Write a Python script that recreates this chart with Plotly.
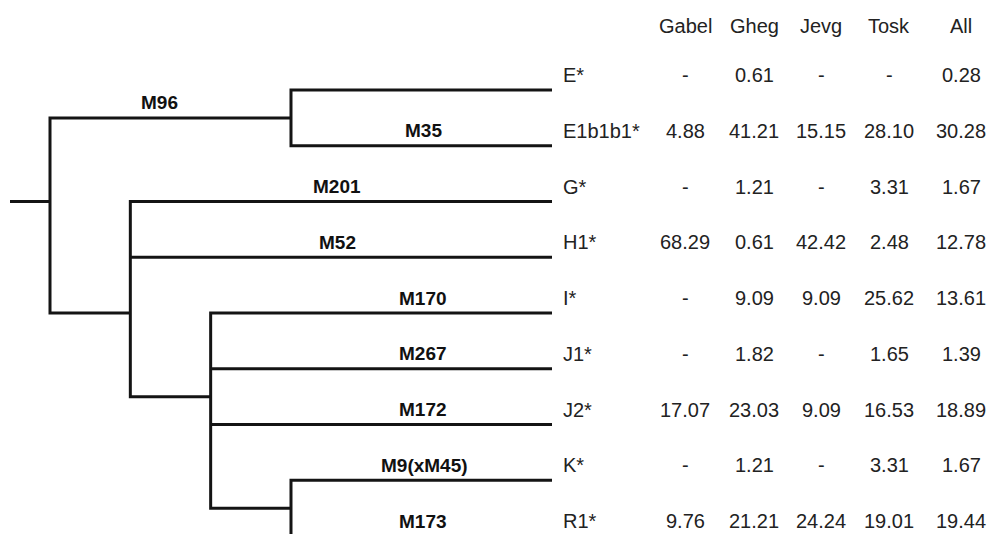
import plotly.graph_objects as go

# ---------------- data ----------------
leaves = ["E*", "E1b1b1*", "G*", "H1*", "I*", "J1*", "J2*", "K*", "R1*"]
leaf_markers = ["", "M35", "M201", "M52", "M170", "M267", "M172", "M9(xM45)", "M173"]
columns = ["Gabel", "Gheg", "Jevg", "Tosk", "All"]
gabel = [None, 4.88, None, 68.29, None, None, 17.07, None, 9.76]
gheg = [0.61, 41.21, 1.21, 0.61, 9.09, 1.82, 23.03, 1.21, 21.21]
jevg = [None, 15.15, None, 42.42, 9.09, None, 9.09, None, 24.24]
tosk = [None, 28.10, 3.31, 2.48, 25.62, 1.65, 16.53, 3.31, 19.01]
all_pop = [0.28, 30.28, 1.67, 12.78, 13.61, 1.39, 18.89, 1.67, 19.44]

# tree topology: internal node -> (level, parent, marker on the branch leading to it)
nodes = {
    "root": (1, None, ""),
    "A": (4, "root", "M96"),
    "B": (2, "root", ""),
    "C": (3, "B", ""),
    "D": (4, "C", ""),
}
leaf_parent = ["A", "A", "B", "B", "C", "C", "C", "D", "D"]

# ---------------- layout constants (page pixels) ----------------
W, H = 988, 534
ROW0_PX, ROW_PX = 90.0, 55.75          # pixel of first leaf row, row step
ROOT_PX, LEVEL_PX = 50.0, 80.33        # pixel of level 1, pixel per level
LEAF_END_PX, STUB_PX = 552, 10
node_row = {"root": 2.0, "A": 0.5, "B": 4.0, "C": 5.5, "D": 7.5}   # vertical anchor of each node
label_px = {"M96": 159, "M35": 423, "M201": 337, "M52": 337, "M170": 423,
            "M267": 423, "M172": 423, "M9(xM45)": 424, "M173": 423}
ROWLABEL_PX = 561
COL_PX = [685, 754, 821, 889, 961]
HEADER_PX = 26
TEXT_SHIFT_PX = 15
LINE_COLOR = "#141414"
TEXT_COLOR = "#222222"
FONT = "Liberation Sans, Arial, Helvetica, sans-serif"
TABLE_SIZE, LABEL_SIZE = 20, 19


def px2lvl(px):
    return 1 + (px - ROOT_PX) / LEVEL_PX


SHIFT = TEXT_SHIFT_PX / ROW_PX
LEAF_LEVEL = px2lvl(LEAF_END_PX)
STUB_LEVEL = px2lvl(STUB_PX)
x_range = [px2lvl(0), px2lvl(W)]
y_range = [(H - ROW0_PX) / ROW_PX, -ROW0_PX / ROW_PX]

# children of each node: (row, end_level)
children = {n: [] for n in nodes}
for i, p in enumerate(leaf_parent):
    children[p].append((i, LEAF_LEVEL))
for n, (lvl, p, _) in nodes.items():
    if p is not None:
        children[p].append((node_row[n], lvl))

xs, ys = [], []
for n, (lvl, p, _) in nodes.items():
    ch = sorted(children[n])
    first, last = ch[0], ch[-1]
    xs += [first[1], lvl, lvl, last[1], None]
    ys += [first[0], first[0], last[0], last[0], None]
    for r, e in ch[1:-1]:
        xs += [lvl, e, None]
        ys += [r, r, None]
xs += [STUB_LEVEL, nodes["root"][0], None]
ys += [node_row["root"], node_row["root"], None]

fig = go.Figure()
fig.add_trace(go.Scatter(x=xs, y=ys, mode="lines",
                         line=dict(color=LINE_COLOR, width=3),
                         hoverinfo="skip", showlegend=False))

ann = []
label_font = dict(family=FONT, size=LABEL_SIZE, color="#111111")
for i, m in enumerate(leaf_markers):
    if m:
        ann.append(dict(x=px2lvl(label_px[m]), y=i - SHIFT, text=f"<b>{m}</b>", showarrow=False,
                        xanchor="center", yanchor="middle", font=label_font))
for n, (lvl, p, m) in nodes.items():
    if m:
        ann.append(dict(x=px2lvl(label_px[m]), y=node_row[n] - SHIFT, text=f"<b>{m}</b>",
                        showarrow=False, xanchor="center", yanchor="middle", font=label_font))

table_font = dict(family=FONT, size=TABLE_SIZE, color=TEXT_COLOR)
series = [gabel, gheg, jevg, tosk, all_pop]
for c, name in enumerate(columns):
    ann.append(dict(x=COL_PX[c] / W, y=1 - HEADER_PX / H, xref="paper", yref="paper",
                    text=name, showarrow=False, xanchor="center", yanchor="middle", font=table_font))
for i, leaf in enumerate(leaves):
    ann.append(dict(x=ROWLABEL_PX / W, y=i - SHIFT, xref="paper", yref="y", text=leaf,
                    showarrow=False, xanchor="left", yanchor="middle", font=table_font))
    for c, s in enumerate(series):
        v = s[i]
        txt = "-" if v is None else f"{v:.2f}"
        ann.append(dict(x=COL_PX[c] / W, y=i - SHIFT, xref="paper", yref="y", text=txt,
                        showarrow=False, xanchor="center", yanchor="middle", font=table_font))

fig.update_layout(
    width=W, height=H, margin=dict(l=0, r=0, t=0, b=0),
    paper_bgcolor="white", plot_bgcolor="white",
    xaxis=dict(range=x_range, visible=False, fixedrange=True),
    yaxis=dict(range=y_range, visible=False, fixedrange=True),
    annotations=ann, showlegend=False,
)
fig.write_html("out.html", config={"displayModeBar": False},
               post_script="document.body.style.margin='0';document.body.style.overflow='hidden';")
